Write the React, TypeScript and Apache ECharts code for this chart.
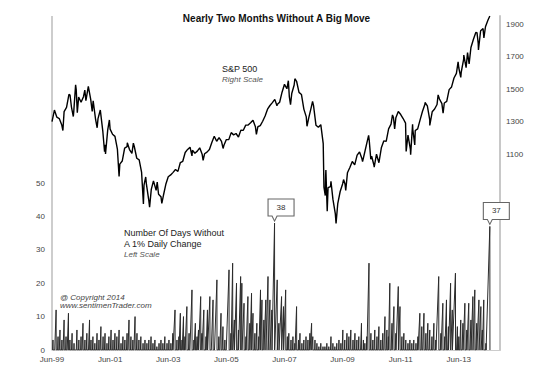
import React, { useEffect, useRef } from "react";
import * as echarts from "echarts";

// x unit: months since 1 Jun 1999
const xTickLabelsEvery = 24;

// S&P 500 month-end closes, Jun 1999 .. May 2014 (index i plotted at month i+1)
const spxMonthEnd = [
  1372.71, 1328.72, 1320.41, 1282.71, 1362.93, 1388.91, 1469.25,
  1394.46, 1366.42, 1498.58, 1452.43, 1420.6, 1454.6, 1430.83, 1517.68, 1436.51, 1429.4, 1314.95, 1320.28,
  1366.01, 1239.94, 1160.33, 1249.46, 1255.82, 1224.42, 1211.23, 1133.58, 1040.94, 1059.78, 1139.45, 1148.08,
  1130.2, 1106.73, 1147.39, 1076.92, 1067.14, 989.82, 911.62, 916.07, 815.28, 885.76, 936.31, 879.82,
  855.7, 841.15, 848.18, 916.92, 963.59, 974.5, 990.31, 1008.01, 995.97, 1050.71, 1058.2, 1111.92,
  1131.13, 1144.94, 1126.21, 1107.3, 1120.68, 1140.84, 1101.72, 1104.24, 1114.58, 1130.2, 1173.82, 1211.92,
  1181.27, 1203.6, 1180.59, 1156.85, 1191.5, 1191.33, 1234.18, 1220.33, 1228.81, 1207.01, 1249.48, 1248.29,
  1280.08, 1280.66, 1294.83, 1310.61, 1270.09, 1270.2, 1276.66, 1303.82, 1335.85, 1377.94, 1400.63, 1418.3,
  1438.24, 1406.82, 1420.86, 1482.37, 1530.62, 1503.35, 1455.27, 1473.99, 1526.75, 1549.38, 1481.14, 1468.36,
  1378.55, 1330.63, 1322.7, 1385.59, 1400.38, 1280.0, 1267.38, 1282.83, 1166.36, 968.75, 896.24, 903.25,
  825.88, 735.09, 797.87, 872.81, 919.14, 919.32, 987.48, 1020.62, 1057.08, 1036.19, 1095.63, 1115.1,
  1073.87, 1104.49, 1169.43, 1186.69, 1089.41, 1030.71, 1101.6, 1049.33, 1141.2, 1183.26, 1180.55, 1257.64,
  1286.12, 1327.22, 1325.83, 1363.61, 1345.2, 1320.64, 1292.28, 1218.89, 1131.42, 1253.3, 1246.96, 1257.6,
  1312.41, 1365.68, 1408.47, 1397.91, 1310.33, 1362.16, 1379.32, 1406.58, 1440.67, 1412.16, 1416.18, 1426.19,
  1498.11, 1514.68, 1569.19, 1597.57, 1630.74, 1606.28, 1685.73, 1632.97, 1681.55, 1756.54, 1805.81, 1848.36,
  1782.59, 1859.45, 1872.34, 1883.95, 1923.57,
];

// Intra-month swings [month, level]
const spxSwings: [number, number][] = [
  [0, 1301.8], [4.5, 1247], [7.45, 1465], [8.8, 1333], [9.75, 1527], [10.45, 1356], [13.55, 1495],
  [15.03, 1520], [16.6, 1364], [18.65, 1264], [19.95, 1373], [21.7, 1117], [22.1, 1103], [23.7, 1312],
  [27.7, 965], [31.1, 1172], [33.6, 1170], [37.75, 797], [38.7, 962], [40.3, 777], [41.9, 938],
  [43.45, 931], [45.35, 800], [57.8, 1091], [62.4, 1064], [70.65, 1137], [84.4, 1223], [92.9, 1399],
  [97.6, 1553], [98.5, 1406], [100.3, 1565], [105.3, 1273], [107.6, 1426], [112.3, 899], [112.85, 848],
  [113.1, 1005], [113.65, 752], [115.2, 935], [117.3, 677], [120.4, 946], [121.3, 879], [128.25, 1056],
  [130.75, 1217], [131.65, 1071], [133.05, 1022], [140.6, 1343], [141.5, 1257], [146.25, 1119],
  [148.1, 1099], [148.9, 1285], [149.8, 1159], [154.05, 1419], [156.0, 1278], [159.45, 1466],
  [161.5, 1353], [167.7, 1669], [168.8, 1573], [170.05, 1710], [171.6, 1725], [172.25, 1656],
  [175.5, 1848], [176.1, 1742], [178.35, 1815], [180.8, 1950],
];

// Streaks of days without a 1% move: [month of streak end, length in days]
const streaks: [number, number][] = [
  [0.4, 3], [1.7, 12], [2.5, 4], [3.3, 6], [4.1, 3], [5.0, 9], [5.8, 4], [6.8, 11], [7.4, 3], [8.3, 5],
  [9.1, 2], [10.3, 6], [11.1, 3], [12.0, 4], [12.8, 8], [13.6, 3], [14.4, 5], [15.5, 9], [16.1, 3], [16.9, 4],
  [17.7, 2], [18.6, 5], [19.4, 3], [20.2, 7], [21.1, 4], [21.9, 5], [22.7, 2], [23.5, 4], [24.4, 6], [25.2, 3],
  [26.0, 5], [26.8, 4], [27.7, 6], [28.5, 2], [29.3, 4], [30.1, 3], [31.0, 5], [31.8, 9], [32.6, 4], [33.4, 3],
  [34.3, 10], [35.1, 5], [35.9, 3], [36.7, 4], [37.6, 2], [38.4, 3], [39.2, 2], [40.0, 3], [40.9, 4], [41.7, 2],
  [42.5, 3], [43.3, 1], [44.2, 2], [45.0, 3], [45.8, 2], [46.6, 4], [47.5, 2], [48.3, 3], [49.1, 2], [49.9, 5],
  [50.8, 12], [51.6, 3], [52.4, 4], [53.0, 11], [53.7, 3], [54.3, 10], [54.9, 4], [55.7, 13], [56.6, 5], [57.8, 18],
  [58.6, 3], [59.2, 8], [59.9, 4], [60.5, 6], [61.4, 16], [61.9, 5], [62.7, 12], [63.6, 4], [64.2, 12], [65.2, 16],
  [66.5, 15], [68.1, 21], [68.9, 4], [69.8, 11], [70.6, 7], [71.4, 3], [73.1, 24], [73.9, 5], [74.6, 26], [75.3, 9],
  [76.2, 20], [77.0, 6], [77.9, 22], [78.4, 20], [79.3, 14], [80.1, 4], [80.9, 16], [81.7, 8], [82.4, 17], [83.0, 11],
  [83.8, 5], [84.6, 8], [85.4, 4], [86.1, 18], [86.7, 15], [87.5, 9], [88.3, 15], [89.2, 22], [90.0, 15], [90.8, 12],
  [91.9, 38], [93.0, 21], [93.7, 8], [94.8, 16], [95.6, 13], [96.5, 18], [97.2, 4], [97.8, 5], [98.7, 3], [99.5, 4],
  [100.3, 2], [101.0, 13], [101.8, 3], [102.4, 5], [103.2, 2], [104.0, 3], [104.9, 4], [105.7, 3], [106.5, 5], [107.2, 8],
  [107.7, 4], [108.6, 3], [109.4, 2], [110.2, 1], [111.0, 2], [111.9, 1], [112.7, 1], [113.5, 2], [114.3, 1], [115.2, 4],
  [116.0, 2], [116.8, 1], [117.6, 2], [118.5, 3], [119.3, 2], [120.1, 6], [120.9, 3], [121.8, 5], [122.6, 4], [123.4, 6],
  [124.3, 3], [125.1, 5], [125.9, 3], [126.7, 4], [127.8, 8], [128.6, 3], [129.2, 2], [130.0, 4], [130.9, 26], [131.7, 5],
  [132.5, 3], [133.3, 6], [134.2, 4], [135.0, 7], [135.8, 3], [136.6, 5], [137.5, 10], [138.3, 6], [138.9, 4], [139.5, 20],
  [140.4, 8], [141.2, 13], [142.0, 5], [143.0, 19], [143.7, 13], [144.5, 4], [145.3, 5], [146.1, 3], [147.0, 2], [147.8, 3],
  [148.6, 2], [149.4, 3], [150.3, 2], [151.1, 4], [151.9, 11], [152.7, 7], [153.6, 11], [154.4, 5], [155.2, 8], [156.0, 6],
  [156.9, 4], [157.7, 8], [158.5, 3], [159.7, 22], [160.6, 5], [161.4, 14], [162.2, 4], [162.9, 15], [163.7, 7], [164.6, 20],
  [165.3, 12], [166.6, 23], [167.4, 7], [168.0, 4], [168.8, 9], [169.7, 8], [170.5, 14], [171.3, 6], [172.1, 14], [173.0, 9],
  [173.8, 16], [174.6, 18], [175.4, 8], [176.3, 15], [177.1, 13], [177.7, 6], [178.3, 15], [179.2, 2], [180.8, 37],
];

const callouts: [number, number][] = [
  [91.9, 38],
  [180.8, 37],
];

const leftTicksShown = [0, 10, 20, 30, 40, 50];
const rightTicksShown = [1100, 1300, 1500, 1700, 1900];

const FONT = "'Liberation Sans', Arial, Helvetica, sans-serif";
const TRADING_DAYS_PER_MONTH = 21;

function buildSpx(): number[][] {
  const pts: number[][] = spxMonthEnd.map((v, i) => [i + 1, v]);
  spxSwings.forEach((p) => pts.push([p[0], p[1]]));
  pts.sort((a, b) => a[0] - b[0]);
  return pts;
}

function buildCounter(): number[][] {
  const pts: number[][] = [];
  let prevEnd = 0;
  streaks.forEach(([m, d]) => {
    const start = Math.max(prevEnd, m - d / TRADING_DAYS_PER_MONTH);
    pts.push([start, 0], [m, d]);
    const end = m + 1 / TRADING_DAYS_PER_MONTH;
    pts.push([end, 0]);
    prevEnd = end;
  });
  return pts;
}

export default function App() {
  const ref = useRef<HTMLDivElement>(null);
  useEffect(() => {
    if (!ref.current) return;
    const chart = echarts.init(ref.current, null, { renderer: "svg" });
    const calloutPath = "path://M0,0 L26,0 L26,17 L9,17 L6.5,22 L4,17 L0,17 Z";
    chart.setOption({
      animation: false,
      backgroundColor: "#ffffff",
      title: {
        text: "Nearly Two Months Without A Big Move",
        left: "center",
        top: 8,
        textStyle: { fontFamily: FONT, fontSize: 10, fontWeight: "bold", color: "#111" },
      },
      grid: { left: 52, right: 53, top: 16, bottom: 19, containLabel: false },
      xAxis: {
        type: "value",
        min: 0,
        max: 185,
        interval: xTickLabelsEvery,
        axisLine: { show: true, onZero: false, lineStyle: { color: "#cccccc", width: 1 } },
        axisTick: { show: false },
        splitLine: { show: false },
        axisLabel: {
          fontFamily: FONT,
          fontSize: 8,
          color: "#444",
          margin: 5,
          showMaxLabel: false,
          formatter: (v: number) => {
            if (v % xTickLabelsEvery !== 0) return "";
            const yr = (1999 + v / 12) % 100;
            return "Jun-" + String(Math.round(yr)).padStart(2, "0");
          },
        },
      },
      yAxis: [
        {
          type: "value",
          min: 0,
          max: 100,
          interval: 10,
          position: "left",
          axisLine: { show: false },
          axisTick: { show: false },
          splitLine: { show: false },
          axisLabel: {
            fontFamily: FONT,
            fontSize: 8,
            color: "#444",
            margin: 7,
            formatter: (v: number) => (leftTicksShown.includes(v) ? String(v) : ""),
          },
        },
        {
          type: "value",
          min: -100,
          max: 1950,
          interval: 200,
          position: "right",
          axisLine: { show: true, onZero: false, lineStyle: { color: "#c8c8c8", width: 2 } },
          axisTick: { show: false },
          splitLine: { show: false },
          axisLabel: {
            fontFamily: FONT,
            fontSize: 8,
            color: "#444",
            margin: 6,
            formatter: (v: number) => (rightTicksShown.includes(v) ? String(v) : ""),
          },
        },
      ],
      series: [
        {
          type: "line",
          name: "Days without 1% change",
          yAxisIndex: 0,
          data: buildCounter(),
          showSymbol: false,
          symbol: "none",
          lineStyle: { color: "#2b2b2b", width: 1 },
          z: 2,
          markPoint: {
            symbol: calloutPath,
            symbolSize: [26, 22],
            symbolKeepAspect: false,
            symbolOffset: [6.5, -13],
            itemStyle: { color: "#ffffff", borderColor: "#666", borderWidth: 1 },
            label: {
              show: true,
              position: "inside",
              offset: [0, -2.5],
              fontFamily: FONT,
              fontSize: 8,
              color: "#333",
              formatter: (p: any) => String(p.value),
            },
            data: callouts.map(([m, v]) => ({ coord: [m, v], value: v })),
          },
        },
        {
          type: "line",
          name: "S&P 500",
          yAxisIndex: 1,
          data: buildSpx(),
          showSymbol: false,
          symbol: "none",
          lineStyle: { color: "#000", width: 1.4 },
          z: 3,
        },
      ],
      graphic: [
        { type: "line", shape: { x1: 52, y1: 16, x2: 52, y2: 350 }, style: { stroke: "#cdcdcd", lineWidth: 2 }, z: 0 },
        { type: "text", x: 222, y: 69, style: { text: "S&P 500", font: `9px ${FONT}`, fill: "#222", verticalAlign: "middle" } },
        { type: "text", x: 222, y: 79, style: { text: "Right Scale", font: `italic 8px ${FONT}`, fill: "#555", verticalAlign: "middle" } },
        { type: "text", x: 124, y: 233, style: { text: "Number Of Days Without", font: `9px ${FONT}`, fill: "#222", verticalAlign: "middle" } },
        { type: "text", x: 124, y: 244, style: { text: "A 1% Daily Change", font: `9px ${FONT}`, fill: "#222", verticalAlign: "middle" } },
        { type: "text", x: 124, y: 254, style: { text: "Left Scale", font: `italic 8px ${FONT}`, fill: "#555", verticalAlign: "middle" } },
        { type: "text", x: 60, y: 297, style: { text: "@ Copyright 2014", font: `italic 8px ${FONT}`, fill: "#444", verticalAlign: "middle" } },
        { type: "text", x: 60, y: 305, style: { text: "www.sentimenTrader.com", font: `italic 8px ${FONT}`, fill: "#444", verticalAlign: "middle" } },
      ],
    });
    return () => chart.dispose();
  }, []);
  return <div ref={ref} style={{ width: 553, height: 369, position: "absolute", left: 0, top: 0 }} />;
}
